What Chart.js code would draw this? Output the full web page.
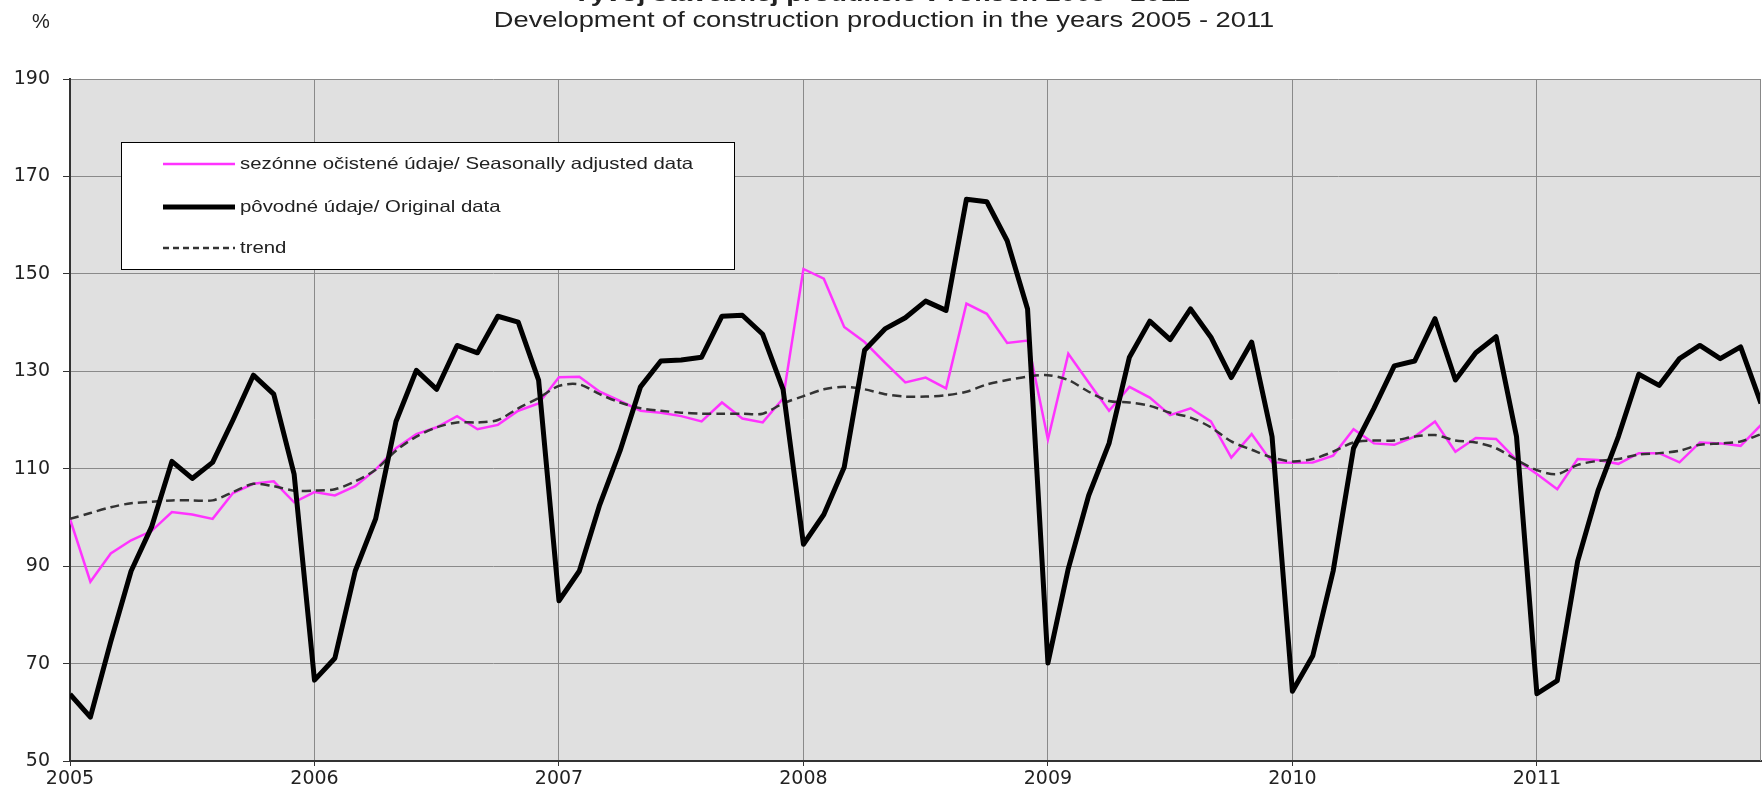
<!DOCTYPE html>
<html>
<head>
<meta charset="utf-8">
<script src="https://cdn.jsdelivr.net/npm/chart.js@4.4.1/dist/chart.umd.min.js"></script>
<style>
  html, body { margin: 0; padding: 0; background: #fff; }
  #wrap { width: 1762px; height: 798px; position: relative; }
</style>
</head>
<body>
<div id="wrap"><canvas id="chart"></canvas></div>
<script>
// Data (monthly index, Jan 2005 - Dec 2011)
const years = ['2005', '2006', '2007', '2008', '2009', '2010', '2011'];
const yMin = 50, yMax = 190, yStep = 20;

const adjusted = [
  99.7, 86.8, 92.6, 95.3, 97.2, 101.1, 100.6, 99.7, 105.0, 106.9, 107.4, 103.1,
  105.2, 104.5, 106.4, 109.8, 114.2, 117.1, 118.5, 120.8, 118.1, 119.0, 121.9, 123.4,
  128.8, 128.9, 125.8, 123.9, 121.9, 121.5, 120.8, 119.7, 123.6, 120.3, 119.5, 124.4,
  151.0, 149.0, 139.1, 136.0, 131.8, 127.7, 128.7, 126.5, 143.9, 141.8, 135.8, 136.3,
  116.0, 133.6, 127.7, 121.9, 126.8, 124.6, 121.0, 122.4, 119.7, 112.3, 117.1, 111.3,
  111.2, 111.3, 112.7, 118.1, 115.2, 114.9, 116.6, 119.7, 113.5, 116.3, 116.1, 111.8,
  108.9, 105.8, 112.0, 111.8, 111.0, 113.2, 113.2, 111.3, 115.4, 115.2, 114.7, 119.0
];

const original = [
  63.7, 59.0, 74.5, 89.0, 98.0, 111.5, 108.0, 111.3, 120.0, 129.2, 125.3, 108.9,
  66.6, 71.1, 89.0, 99.7, 119.7, 130.2, 126.3, 135.3, 133.8, 141.3, 140.1, 128.2,
  82.9, 89.0, 102.6, 113.7, 126.8, 132.1, 132.3, 132.9, 141.3, 141.5, 137.6, 126.3,
  94.5, 100.6, 110.3, 134.3, 138.7, 141.0, 144.4, 142.5, 165.3, 164.8, 156.8, 142.8,
  70.1, 89.5, 104.5, 115.2, 132.9, 140.3, 136.5, 142.8, 137.0, 128.7, 136.0, 116.6,
  64.3, 71.6, 89.0, 114.2, 122.4, 131.1, 132.1, 140.8, 128.2, 133.8, 137.1, 116.6,
  63.8, 66.5, 91.0, 105.5, 116.6, 129.4, 127.1, 132.6, 135.3, 132.6, 135.0, 123.4
];

const trend = [
  99.7, 100.9, 102.1, 102.9, 103.2, 103.5, 103.5, 103.5, 105.2, 106.9, 106.4, 105.5,
  105.5, 105.8, 107.4, 109.8, 113.7, 116.6, 118.5, 119.5, 119.5, 120.0, 122.4, 124.5,
  127.0, 127.3, 125.3, 123.6, 122.4, 121.9, 121.5, 121.3, 121.3, 121.3, 121.3, 123.4,
  124.9, 126.3, 126.8, 126.3, 125.3, 124.8, 124.8, 125.1, 125.8, 127.3, 128.2, 128.9,
  129.2, 128.2, 125.8, 123.9, 123.6, 122.9, 121.5, 120.5, 118.5, 115.6, 113.9, 112.3,
  111.5, 112.0, 113.5, 115.4, 115.8, 115.8, 116.6, 116.9, 115.8, 115.4, 114.2, 111.8,
  109.7, 108.9, 110.8, 111.6, 112.0, 112.9, 113.2, 113.7, 114.9, 115.2, 115.6, 117.1
];

const titleTop = 'Vývoj stavebnej produkcie v rokoch 2005 - 2011';
const titleSub = 'Development of construction production in the years 2005 - 2011';
const labels = [
  'sezónne očistené údaje/ Seasonally adjusted data',
  'pôvodné údaje/ Original data',
  'trend'
];

const toPoints = arr => arr.map((v, i) => ({ x: i, y: v }));
const tickFont = { family: '"DejaVu Sans", sans-serif', size: 19 };

// grey plot background + right frame
const plotBg = {
  id: 'plotBg',
  beforeDraw(chart) {
    const a = chart.chartArea, ctx = chart.ctx;
    ctx.save();
    ctx.fillStyle = '#e0e0e0';
    ctx.fillRect(a.left, a.top, a.right - a.left, a.bottom - a.top);
    ctx.restore();
  },
  afterDatasetsDraw(chart) {
    const a = chart.chartArea, ctx = chart.ctx;
    ctx.save();
    ctx.strokeStyle = '#888';
    ctx.lineWidth = 1;
    ctx.beginPath();
    ctx.moveTo(a.right - 0.5, a.top);
    ctx.lineTo(a.right - 0.5, a.bottom);
    ctx.stroke();
    ctx.restore();
  }
};

// boxed legend inside the plot
const boxLegend = {
  id: 'boxLegend',
  afterDraw(chart) {
    const ctx = chart.ctx;
    const x = 121, y = 142, w = 613, h = 127;
    ctx.save();
    ctx.fillStyle = '#fff';
    ctx.fillRect(x, y, w, h);
    ctx.strokeStyle = '#000';
    ctx.lineWidth = 1;
    ctx.strokeRect(x + 0.5, y + 0.5, w, h);
    const rows = [164, 207, 248];
    chart.data.datasets.forEach((ds, i) => {
      const ry = rows[i];
      ctx.save();
      ctx.strokeStyle = ds.borderColor;
      ctx.lineWidth = ds.borderWidth;
      ctx.setLineDash(i === 2 ? [6, 4] : []);
      ctx.beginPath();
      ctx.moveTo(163, ry);
      ctx.lineTo(235, ry);
      ctx.stroke();
      ctx.restore();
      ctx.save();
      ctx.fillStyle = '#222';
      ctx.font = '16.5px "Liberation Sans", Arial, sans-serif';
      ctx.textBaseline = 'middle';
      ctx.translate(240, ry);
      ctx.scale(1.235, 1);
      ctx.fillText(ds.label, 0, 0);
      ctx.restore();
    });
    ctx.restore();
  }
};

// title lines and unit
const headings = {
  id: 'headings',
  afterDraw(chart) {
    const ctx = chart.ctx;
    ctx.save();
    ctx.fillStyle = '#222';
    ctx.textAlign = 'center';
    ctx.textBaseline = 'alphabetic';

    ctx.save();
    ctx.font = 'bold 22px "Liberation Sans", Arial, sans-serif';
    ctx.translate(881, 1);
    ctx.scale(1.24, 1);
    ctx.fillText(titleTop, 0, 0);
    ctx.restore();

    ctx.save();
    ctx.font = '22px "Liberation Sans", Arial, sans-serif';
    ctx.translate(884, 27);
    ctx.scale(1.24, 1);
    ctx.fillText(titleSub, 0, 0);
    ctx.restore();

    ctx.font = '20px "Liberation Sans", Arial, sans-serif';
    ctx.textAlign = 'left';
    ctx.fillText('%', 32, 28);
    ctx.restore();
  }
};

const ctx = document.getElementById('chart').getContext('2d');
new Chart(ctx, {
  type: 'line',
  data: {
    datasets: [
      {
        label: labels[0],
        data: toPoints(adjusted),
        borderColor: '#ff33ff',
        borderWidth: 2.5,
        pointRadius: 0,
        tension: 0,
        order: 3
      },
      {
        label: labels[1],
        data: toPoints(original),
        borderColor: '#000',
        borderWidth: 5,
        borderJoinStyle: 'round',
        pointRadius: 0,
        tension: 0,
        order: 1
      },
      {
        label: labels[2],
        data: toPoints(trend),
        borderColor: '#333',
        borderWidth: 2.5,
        borderDash: [9, 5],
        pointRadius: 0,
        tension: 0.3,
        order: 2
      }
    ]
  },
  options: {
    responsive: true,
    maintainAspectRatio: false,
    animation: false,
    layout: { padding: { top: 79, right: 1, left: 0, bottom: 0 } },
    plugins: {
      legend: { display: false },
      title: { display: false },
      tooltip: { enabled: false }
    },
    scales: {
      x: {
        type: 'linear',
        min: 0,
        max: adjusted.length - 1,
        afterBuildTicks: scale => {
          scale.ticks = years.map((y, i) => ({ value: i * 12 }));
        },
        afterFit: scale => { scale.height = 37; },
        ticks: {
          autoSkip: false,
          maxRotation: 0,
          padding: 2,
          color: '#222',
          font: tickFont,
          callback: v => years[Math.round(v / 12)]
        },
        grid: { color: '#8a8a8a', lineWidth: 1, tickLength: 5, tickColor: '#333' },
        border: { color: '#333', width: 2 }
      },
      y: {
        min: yMin,
        max: yMax,
        afterFit: scale => { scale.width = 70; },
        ticks: {
          stepSize: yStep,
          padding: 13,
          color: '#222',
          font: tickFont
        },
        grid: { color: '#8a8a8a', lineWidth: 1, tickLength: 7, tickColor: '#333' },
        border: { color: '#333', width: 2 }
      }
    }
  },
  plugins: [plotBg, boxLegend, headings]
});
</script>
</body>
</html>
